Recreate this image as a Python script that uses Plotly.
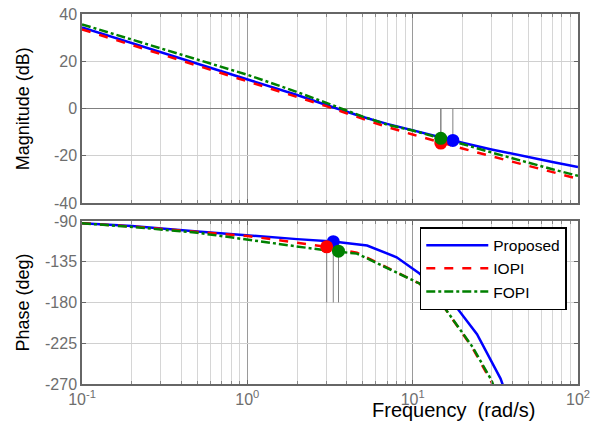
import plotly.graph_objects as go

# ---------------- data ----------------
series_names = ["Proposed", "IOPI", "FOPI"]
series_colors = ["#0000FF", "#FF0000", "#008000"]
series_dash = ["solid", "dash", "dashdot"]

freq_mag = [0.1, 0.2, 0.5, 1, 2, 3, 5, 7, 10, 15, 20, 30, 50, 70, 100]
mag_proposed = [34.3, 27.7, 19.0, 12.3, 5.7, 1.5, -3.6, -6.5, -9.2, -12.5, -14.5, -17.3, -20.6, -22.6, -24.7]
mag_iopi = [33.5, 26.9, 18.2, 11.6, 5.0, 1.0, -4.4, -7.8, -11.0, -14.6, -16.9, -20.2, -24.3, -27.0, -29.7]
mag_fopi = [35.6, 29.1, 20.6, 14.3, 7.0, 2.3, -3.4, -6.8, -9.3, -12.7, -15.0, -18.6, -23.0, -25.7, -28.5]

freq_ph_proposed = [0.1, 0.2, 0.5, 1, 2, 3.3, 5.3, 8, 11, 17.5, 24.5, 34, 40]
ph_proposed = [-92.5, -95.5, -101.5, -106, -110, -112.5, -117, -130, -148, -180, -215, -264, -300]
freq_ph_pi = [0.1, 0.2, 0.5, 1, 2, 3, 4.6, 7.3, 11, 14.8, 23, 30, 40]
ph_iopi = [-92.5, -96, -102, -106.5, -114, -118.5, -125, -143, -159, -180, -230, -268, -330]
ph_fopi = [-92.5, -96.5, -103, -110.5, -118, -122.5, -126, -143, -159, -180, -229, -266, -330]

# gain-margin points (phase crossover) and phase-margin points (gain crossover)
gm_freq = [17.5, 14.8, 14.8]
gm_mag = [-13.5, -14.6, -12.6]
pm_freq = [3.31, 3.02, 3.56]
pm_phase = [-112.8, -118.5, -123.3]

mag_ticks = [-40, -20, 0, 20, 40]
phase_ticks = [-270, -225, -180, -135, -90]
freq_ticks = [0.1, 1, 10, 100]
freq_ticktext = ["10<sup>-1</sup>", "10<sup>0</sup>", "10<sup>1</sup>", "10<sup>2</sup>"]

# ---------------- figure ----------------
mags = [mag_proposed, mag_iopi, mag_fopi]
phases = [ph_proposed, ph_iopi, ph_fopi]
ph_freqs = [freq_ph_proposed, freq_ph_pi, freq_ph_pi]

fig = go.Figure()
FONT = "Liberation Sans, Arial, sans-serif"
GRIDC = "#9a9a9a"
MARGC = "#808080"

# margin stems (behind curves)
for i in range(3):
    fig.add_trace(go.Scatter(x=[gm_freq[i], gm_freq[i]], y=[0, gm_mag[i]], mode="lines",
                             line=dict(color=MARGC, width=1), showlegend=False, hoverinfo="skip",
                             xaxis="x", yaxis="y"))
    fig.add_trace(go.Scatter(x=[pm_freq[i], pm_freq[i]], y=[-180, pm_phase[i]], mode="lines",
                             line=dict(color=MARGC, width=1), showlegend=False, hoverinfo="skip",
                             xaxis="x2", yaxis="y2"))

for i in range(3):
    fig.add_trace(go.Scatter(x=freq_mag, y=mags[i], mode="lines", name=series_names[i],
                             line=dict(color=series_colors[i], width=2.5, dash=series_dash[i]),
                             showlegend=False, xaxis="x", yaxis="y"))
for i in range(3):
    fig.add_trace(go.Scatter(x=ph_freqs[i], y=phases[i], mode="lines", name=series_names[i],
                             line=dict(color=series_colors[i], width=2.5, dash=series_dash[i]),
                             showlegend=True, xaxis="x2", yaxis="y2"))

for i in range(3):
    fig.add_trace(go.Scatter(x=[gm_freq[i]], y=[gm_mag[i]], mode="markers",
                             marker=dict(color=series_colors[i], size=13), showlegend=False,
                             xaxis="x", yaxis="y"))
    fig.add_trace(go.Scatter(x=[pm_freq[i]], y=[pm_phase[i]], mode="markers",
                             marker=dict(color=series_colors[i], size=13), showlegend=False,
                             xaxis="x2", yaxis="y2"))

minor_vals = [m * 10 ** k for k in (-1, 0, 1) for m in range(2, 10)]

def xax(show_labels, anchor):
    return dict(type="log", range=[-1, 2], anchor=anchor, automargin=False,
                tickvals=freq_ticks, ticktext=freq_ticktext, showticklabels=show_labels,
                tickfont=dict(family=FONT, size=16, color="#6e6e6e"),
                showgrid=True, gridcolor=GRIDC, gridwidth=1,
                ticks="inside", ticklen=4, tickcolor="#666666",
                minor=dict(tickvals=minor_vals, showgrid=True, gridcolor="#d6d6d6", gridwidth=1,
                           ticks="inside", ticklen=3, tickcolor="#888888"),
                showline=True, linecolor="#666666", linewidth=1.5, mirror="ticks",
                zeroline=False)

fig.update_layout(
    template="none",
    width=602, height=422,
    margin=dict(l=82, r=24, t=14, b=38, autoexpand=False),
    paper_bgcolor="white", plot_bgcolor="white",
    font=dict(family=FONT, size=16, color="black"),
    xaxis=xax(False, "y"),
    xaxis2=xax(True, "y2"),
    yaxis=dict(domain=[0.489, 1], range=[-40, 40], tickvals=mag_ticks, automargin=False,
               ticktext=[str(v) for v in mag_ticks],
               tickfont=dict(family=FONT, size=16, color="#6e6e6e"),
               showgrid=True, gridcolor="#d0d0d0", ticks="inside", ticklen=4, tickcolor="#666666",
               zeroline=True, zerolinecolor=MARGC, zerolinewidth=1,
               showline=True, linecolor="#666666", linewidth=1.5, mirror="ticks"),
    yaxis2=dict(domain=[0, 0.4405], range=[-270, -90], tickvals=phase_ticks, automargin=False,
                ticktext=[str(v) for v in phase_ticks],
                tickfont=dict(family=FONT, size=16, color="#6e6e6e"),
                showgrid=True, gridcolor="#d0d0d0", ticks="inside", ticklen=4, tickcolor="#666666",
                zeroline=False,
                showline=True, linecolor="#666666", linewidth=1.5, mirror="ticks"),
    legend=dict(x=0.681, y=0.424, xanchor="left", yanchor="top",
                bgcolor="white", bordercolor="black", borderwidth=1.5,
                font=dict(family=FONT, size=15.5, color="black"),
                itemwidth=62, tracegroupgap=0),
    showlegend=True,
)

fig.add_shape(type="line", xref="x2 domain", yref="y2", x0=0, x1=1, y0=-180, y1=-180,
              line=dict(color=MARGC, width=1), layer="below")

fig.add_annotation(text="Magnitude (dB)", xref="paper", yref="paper", x=-0.119, y=0.745,
                   xanchor="center", yanchor="middle",
                   textangle=-90, showarrow=False, font=dict(family=FONT, size=18, color="black"))
fig.add_annotation(text="Phase (deg)", xref="paper", yref="paper", x=-0.119, y=0.22,
                   xanchor="center", yanchor="middle",
                   textangle=-90, showarrow=False, font=dict(family=FONT, size=18, color="black"))
fig.add_annotation(text="Frequency\u00a0\u00a0(rad/s)", xref="paper", yref="paper", x=0.748, y=-0.071,
                   xanchor="center", yanchor="middle", showarrow=False,
                   font=dict(family=FONT, size=20, color="black"))

fig.write_html("out.html", config={"displayModeBar": False},
               post_script="document.body.style.margin='0';document.body.style.overflow='hidden';")
